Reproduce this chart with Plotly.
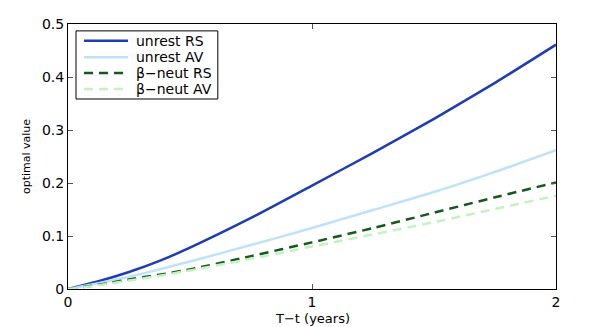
import plotly.graph_objects as go

# 読み取り値（T-t [年] ごとの最適値）
t_years = [0, 0.125, 0.25, 0.375, 0.5, 0.75, 1.0, 1.25, 1.5, 1.75, 2.0]
unrest_rs = [0, 0.0145, 0.032, 0.053, 0.078, 0.134, 0.195, 0.257, 0.321, 0.389, 0.461]
unrest_av = [0, 0.011, 0.023, 0.037, 0.052, 0.083, 0.115, 0.149, 0.183, 0.221, 0.262]
beta_rs = [0, 0.008, 0.018, 0.027, 0.037, 0.062, 0.088, 0.115, 0.144, 0.173, 0.201]
beta_av = [0, 0.007, 0.016, 0.025, 0.035, 0.057, 0.080, 0.103, 0.126, 0.151, 0.176]

x_ticks = [0, 1, 2]
y_ticks = [0, 0.1, 0.2, 0.3, 0.4, 0.5]

FONT = "DejaVu Sans, Verdana, sans-serif"

series = [
    ("unrest RS", unrest_rs, "#1f3db3", "solid"),
    ("unrest AV", unrest_av, "#bfe2fb", "solid"),
    ("\u03b2\u2212neut RS", beta_rs, "#17581c", "9px,6px"),
    ("\u03b2\u2212neut AV", beta_av, "#c4f3c0", "9px,6px"),
]

fig = go.Figure()
for name, vals, color, dash in series:
    fig.add_trace(go.Scatter(
        x=t_years, y=vals, name=name, mode="lines",
        line=dict(color=color, width=2.5, dash=dash, shape="spline", smoothing=0.6),
    ))

# ── 凡例（MATLAB風の枠付き凡例を手組み）──
shapes = [dict(type="rect", xref="paper", yref="paper",
               x0=0.0164, x1=0.307, y0=0.717, y1=0.974,
               line=dict(color="black", width=1), fillcolor="white", layer="above")]
annotations = []
row_y = [0.937, 0.875, 0.815, 0.755]
for (name, _, color, dash), ry in zip(series, row_y):
    shapes.append(dict(type="line", xref="paper", yref="paper",
                       x0=0.0328, x1=0.123, y0=ry, y1=ry, layer="above",
                       line=dict(color=color, width=2.5, dash=dash)))
    annotations.append(dict(xref="paper", yref="paper", x=0.135, y=ry,
                            xanchor="left", yanchor="middle", showarrow=False,
                            text=name, font=dict(family=FONT, size=14, color="black")))

# x軸タイトル（位置を合わせるため注記で）
annotations.append(dict(xref="paper", yref="paper", x=0.5, y=-0.112,
                        xanchor="center", yanchor="middle", showarrow=False,
                        text="T\u2212t (years)", font=dict(family=FONT, size=13, color="black")))

axis_common = dict(
    showgrid=False, zeroline=False, automargin=False,
    showline=True, linecolor="black", linewidth=1, mirror="ticks",
    ticks="inside", ticklen=5, tickcolor="#555",
    tickfont=dict(family=FONT, size=14, color="black"),
)

fig.update_layout(
    width=599, height=327,
    margin=dict(l=60, r=51, t=16, b=46),
    paper_bgcolor="white", plot_bgcolor="white",
    font=dict(family=FONT, size=14, color="black"),
    xaxis=dict(range=[0, 2], tickvals=x_ticks, **axis_common),
    yaxis=dict(range=[0, 0.5], tickvals=y_ticks,
               title=dict(text="optimal value", font=dict(size=11), standoff=9),
               **axis_common),
    shapes=shapes,
    annotations=annotations,
    showlegend=False,
)

fig.write_html("out.html")
